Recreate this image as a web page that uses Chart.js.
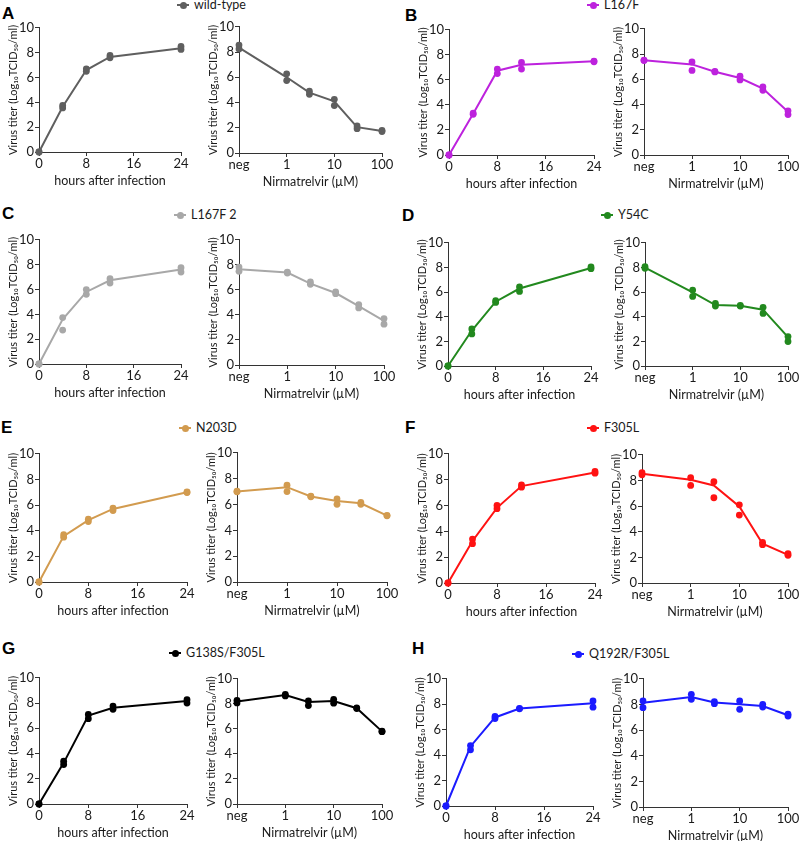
<!DOCTYPE html>
<html>
<head>
<meta charset="utf-8">
<script src="https://cdn.jsdelivr.net/npm/chart.js@4.4.1/dist/chart.umd.min.js"></script>
<style>
  body { margin: 0; background: #fff; width: 800px; height: 841px; position: relative; overflow: hidden; font-family: Lato, sans-serif; }
  canvas { position: absolute; }
  .letter { position: absolute; font: bold 17px/17px "Liberation Sans", Arial, sans-serif; color: #000; }
  .legend { position: absolute; font: 12.5px/14px Lato, sans-serif; color: #1a1a1a; white-space: nowrap; display: flex; align-items: center; }
  .mk { position: relative; display: inline-block; width: 12px; height: 2px; margin-right: 5px; }
  .mk::after { content: ''; position: absolute; left: 2.5px; top: -2.5px; width: 7px; height: 7px; border-radius: 50%; background: inherit; }
</style>
</head>
<body>
<script>
// x values
const hours = [0, 4, 8, 12, 24];
const doses = [0.1, 1, 3, 10, 30, 100]; // 0.1 stands for "neg" (no drug)
const hourTicks = [0, 8, 16, 24];
const doseTicks = [0.1, 1, 10, 100];
const doseTickLabels = ['neg', '1', '10', '100'];

const variantNames = ['wild-type', 'L167F', 'L167F 2', 'Y54C', 'N203D', 'F305L', 'G138S/F305L', 'Q192R/F305L'];

// titers (log10 TCID50/ml): line value + two replicate dots
const wtGrowthMean = [0, 3.65, 6.6, 7.65, 8.36];
const wtGrowthReps = [[0, 3.75, 6.7, 7.77, 8.5], [0, 3.55, 6.5, 7.59, 8.26]];
const wtDoseMean = [8.35, 6.0, 4.78, 4.1, 2.05, 1.75];
const wtDoseReps = [[8.55, 6.27, 4.9, 4.25, 2.14, 1.8], [8.25, 5.74, 4.65, 3.76, 1.93, 1.7]];

const l167fGrowthMean = [0, 3.3, 6.73, 7.2, 7.48];
const l167fGrowthReps = [[0, 3.35, 6.86, 7.39, 7.5], [0, 3.25, 6.5, 6.86, 7.45]];
const l167fDoseMean = [7.5, 7.18, 6.6, 6.1, 5.26, 3.42];
const l167fDoseReps = [[7.52, 7.37, 6.62, 6.24, 5.4, 3.5], [7.48, 6.7, 6.58, 5.95, 5.13, 3.2]];

const l167f2GrowthMean = [0, 3.6, 5.8, 6.74, 7.6];
const l167f2GrowthReps = [[0, 3.74, 5.99, 6.87, 7.75], [0, 2.73, 5.61, 6.52, 7.4]];
const l167f2DoseMean = [7.64, 7.38, 6.5, 5.75, 4.7, 3.53];
const l167f2DoseReps = [[7.82, 7.42, 6.63, 5.83, 4.83, 3.71], [7.48, 7.35, 6.45, 5.7, 4.56, 3.26]];

const y54cGrowthMean = [0, 2.88, 5.22, 6.29, 7.95];
const y54cGrowthReps = [[0, 3.01, 5.3, 6.42, 8.04], [0, 2.6, 5.16, 6.05, 7.9]];
const y54cDoseMean = [7.98, 5.97, 4.95, 4.89, 4.57, 2.34];
const y54cDoseReps = [[8.06, 6.16, 5.08, 4.92, 4.76, 2.39], [7.93, 5.65, 4.87, 4.86, 4.27, 1.99]];

const n203dGrowthMean = [0, 3.58, 4.82, 5.7, 7.0];
const n203dGrowthReps = [[0, 3.69, 4.9, 5.77, 7.02], [0, 3.5, 4.72, 5.57, 6.98]];
const n203dDoseMean = [7.0, 7.34, 6.62, 6.27, 6.09, 5.14];
const n203dDoseReps = [[7.03, 7.49, 6.64, 6.44, 6.16, 5.16], [6.98, 7.0, 6.6, 6.01, 6.01, 5.12]];

const f305lGrowthMean = [0, 3.25, 5.82, 7.5, 8.56];
const f305lGrowthReps = [[0, 3.4, 6.0, 7.6, 8.63], [0, 3.04, 5.75, 7.42, 8.5]];
const f305lDoseMean = [8.52, 8.05, 7.61, 5.97, 3.06, 2.2];
const f305lDoseReps = [[8.6, 8.21, 7.9, 6.1, 3.17, 2.29], [8.44, 7.61, 6.65, 5.3, 2.99, 2.16]];

const g138sGrowthMean = [0, 3.26, 7.0, 7.63, 8.16];
const g138sGrowthReps = [[0, 3.39, 7.1, 7.76, 8.26], [0, 3.13, 6.76, 7.5, 8.0]];
const g138sDoseMean = [8.18, 8.7, 8.15, 8.23, 7.65, 5.8];
const g138sDoseReps = [[8.28, 8.76, 8.23, 8.36, 7.68, 5.82], [8.07, 8.63, 7.86, 8.05, 7.62, 5.78]];

const q192rGrowthMean = [0, 4.68, 6.96, 7.66, 8.08];
const q192rGrowthReps = [[0, 4.75, 7.04, 7.68, 8.26], [0, 4.42, 6.88, 7.64, 7.77]];
const q192rDoseMean = [8.14, 8.58, 8.15, 8.01, 7.88, 7.16];
const q192rDoseReps = [[8.27, 8.79, 8.22, 8.27, 8.01, 7.24], [7.75, 8.4, 8.06, 7.62, 7.8, 7.1]];

const growthMeans = [wtGrowthMean, l167fGrowthMean, l167f2GrowthMean, y54cGrowthMean, n203dGrowthMean, f305lGrowthMean, g138sGrowthMean, q192rGrowthMean];
const growthReps = [wtGrowthReps, l167fGrowthReps, l167f2GrowthReps, y54cGrowthReps, n203dGrowthReps, f305lGrowthReps, g138sGrowthReps, q192rGrowthReps];
const doseMeans = [wtDoseMean, l167fDoseMean, l167f2DoseMean, y54cDoseMean, n203dDoseMean, f305lDoseMean, g138sDoseMean, q192rDoseMean];
const doseReps = [wtDoseReps, l167fDoseReps, l167f2DoseReps, y54cDoseReps, n203dDoseReps, f305lDoseReps, g138sDoseReps, q192rDoseReps];

// styling / layout
const colors = ['#5f5f5f', '#bd22dd', '#a8a8a8', '#22891e', '#d29b4f', '#ff1212', '#000000', '#1b1bff'];
const letters = ['A', 'B', 'C', 'D', 'E', 'F', 'G', 'H'];
const letterPos = [[2, 5], [405, 7], [2, 205], [402, 207], [1, 419], [405, 419], [2, 640], [412, 640]];
const legendPos = [[177, 5], [587, 5], [174, 215], [601, 215], [179, 428], [587, 428], [169, 653], [572, 654]];
// plot areas [left, top, right, bottom]
const growthRects = [[39, 27, 181, 152], [449, 29, 594, 155], [39, 239, 181, 364], [448, 242, 591, 366],
                     [39, 453, 187, 582], [448, 453, 595, 583], [39, 677, 187, 804], [446, 678, 593, 806]];
const doseRects = [[239, 26, 382, 153], [644, 28, 788, 155], [239, 239, 384, 365], [645, 242, 788, 366],
                   [237, 452, 387, 582], [642, 454, 788, 583], [237, 678, 382, 804], [643, 678, 788, 807]];

Chart.defaults.font.family = 'Lato';
Chart.defaults.color = '#1a1a1a';

const Y_W = 35, X_H = 36, PAD_T = 8, PAD_R = 12;
const axisColor = '#333';

function makeChart(rect, xs, mean, reps, color, isDose) {
  const [L, T, R, B] = rect;
  const cv = document.createElement('canvas');
  cv.width = Y_W + (R - L) + PAD_R;
  cv.height = PAD_T + (B - T) + X_H;
  cv.style.left = (L - Y_W) + 'px';
  cv.style.top = (T - PAD_T) + 'px';
  document.body.appendChild(cv);

  const datasets = [{
    data: xs.map((x, i) => ({ x: x, y: mean[i] })),
    borderColor: color, borderWidth: 2, pointRadius: 0, tension: 0, clip: false
  }];
  reps.forEach(r => {
    datasets.push({
      data: xs.map((x, i) => ({ x: x, y: r[i] })),
      showLine: false, pointRadius: 3.4, pointBorderWidth: 0,
      pointBackgroundColor: color, borderColor: color, clip: false
    });
  });

  const xScale = isDose ? {
    type: 'logarithmic', min: 0.1, max: 100,
    afterBuildTicks: s => { s.ticks = doseTicks.map(v => ({ value: v })); },
    ticks: { callback: (v, i) => doseTickLabels[i], font: { size: 13 }, padding: 0, maxRotation: 0 },
    title: { display: true, text: 'Nirmatrelvir (µM)', font: { size: 12.5 }, padding: 0 }
  } : {
    type: 'linear', min: 0, max: 24,
    afterBuildTicks: s => { s.ticks = hourTicks.map(v => ({ value: v })); },
    ticks: { font: { size: 13 }, padding: 0, maxRotation: 0 },
    title: { display: true, text: 'hours after infection', font: { size: 12.5 }, padding: 0 }
  };
  Object.assign(xScale, {
    grid: { display: true, drawOnChartArea: false, drawTicks: true, tickLength: 4, color: axisColor },
    border: { display: true, color: axisColor, width: 1 },
    afterFit: s => { s.height = X_H; }
  });

  new Chart(cv, {
    type: 'line',
    data: { datasets: datasets },
    options: {
      responsive: false, animation: false, devicePixelRatio: 1,
      layout: { padding: { top: PAD_T, right: PAD_R, left: 0, bottom: 0 } },
      plugins: { legend: { display: false }, tooltip: { enabled: false } },
      scales: {
        x: xScale,
        y: {
          min: 0, max: 10,
          ticks: { stepSize: 2, font: { size: 13 }, padding: 1 },
          grid: { display: true, drawOnChartArea: false, drawTicks: true, tickLength: 4, color: axisColor },
          border: { display: true, color: axisColor, width: 1 },
          title: { display: true, text: 'Virus titer (Log₁₀TCID₅₀/ml)', font: { size: 11 }, padding: { top: 3, bottom: 0 } },
          afterFit: s => { s.width = Y_W; }
        }
      }
    }
  });
}

variantNames.forEach((name, k) => {
  const lt = document.createElement('div');
  lt.className = 'letter';
  lt.textContent = letters[k];
  lt.style.left = letterPos[k][0] + 'px';
  lt.style.top = letterPos[k][1] + 'px';
  document.body.appendChild(lt);

  const lg = document.createElement('div');
  lg.className = 'legend';
  lg.innerHTML = '<span class="mk" style="background:' + colors[k] + '"></span>' + name;
  lg.style.left = legendPos[k][0] + 'px';
  lg.style.top = (legendPos[k][1] - 7) + 'px';
  document.body.appendChild(lg);

  makeChart(growthRects[k], hours, growthMeans[k], growthReps[k], colors[k], false);
  makeChart(doseRects[k], doses, doseMeans[k], doseReps[k], colors[k], true);
});
</script>
</body>
</html>
